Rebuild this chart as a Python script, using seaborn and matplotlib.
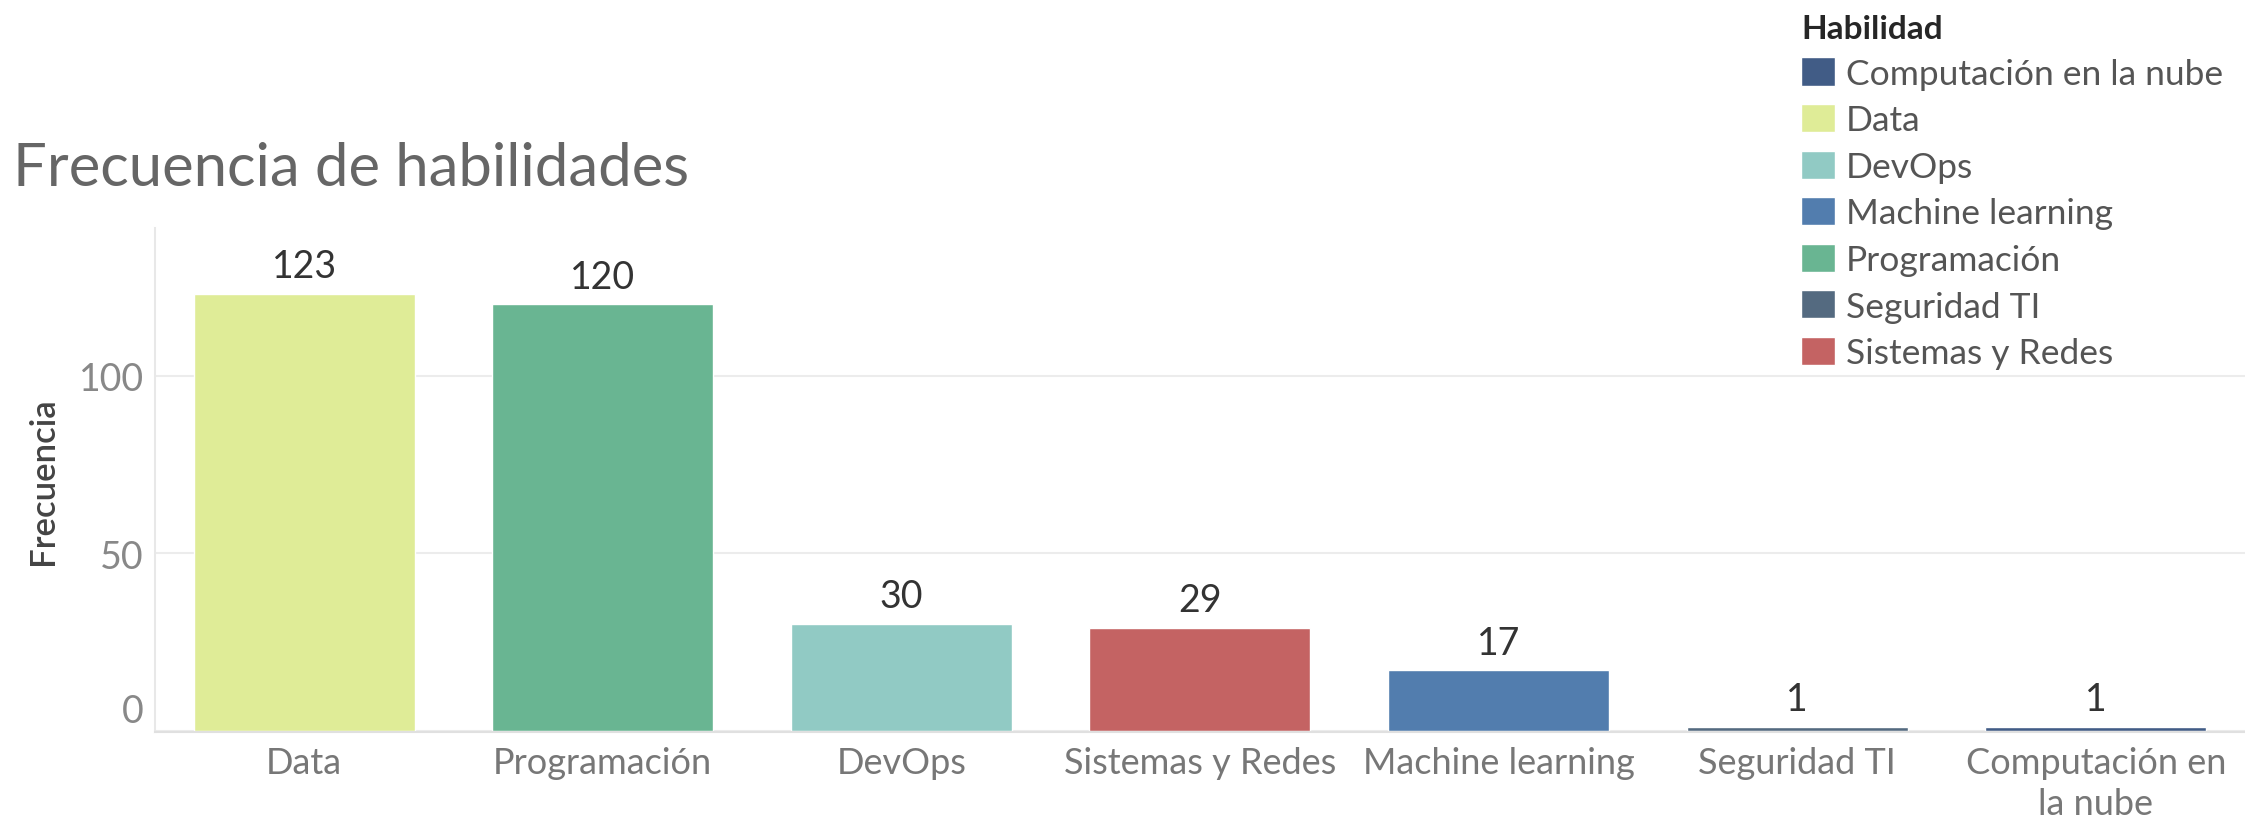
import pandas as pd
import matplotlib.pyplot as plt
import matplotlib.transforms as mtransforms
import seaborn as sns

# Data (order of the bars)
habilidades = ["Data", "Programación", "DevOps", "Sistemas y Redes",
               "Machine learning", "Seguridad TI", "Computación en la nube"]
frecuencias = [123, 120, 30, 29, 17, 1, 1]
etiquetas_x = ["Data", "Programación", "DevOps", "Sistemas y Redes",
               "Machine learning", "Seguridad TI", "Computación en\nla nube"]
# Legend order (alphabetical, as in the original)
orden_leyenda = ["Computación en la nube", "Data", "DevOps", "Machine learning",
                 "Programación", "Seguridad TI", "Sistemas y Redes"]
colores_lista = ["#DFEC97", "#69B592", "#91CAC4", "#C46363",
                 "#527DAE", "#546A80", "#415C86"]
colores = dict(zip(habilidades, colores_lista))

df = pd.DataFrame({"Habilidad": habilidades, "Frecuencia": frecuencias})

sns.set_theme(style="white")
plt.rcParams["font.family"] = ["Lato", "DejaVu Sans"]

# Create figure
fig = plt.figure(figsize=(22.45, 8.2), dpi=100)
ax = fig.add_axes([0.069, 0.106, 0.931, 0.615])

sns.barplot(data=df, x="Habilidad", y="Frecuencia", hue="Habilidad",
            order=habilidades, hue_order=orden_leyenda, palette=colores,
            width=0.74, saturation=1, dodge=False, legend=True, ax=ax)

# Value labels on top of the bars
for c in ax.containers:
    ax.bar_label(c, padding=7, fontsize=27, color="#333333")

# Axes styling
ax.set_xlim(-0.5, 6.5)
ax.set_ylim(-0.4, 141.6)
ax.set_yticks([0, 50, 100])
ax.yaxis.grid(True, color="#ececec", linewidth=1.5)
ax.set_axisbelow(True)
for s in ["top", "right"]:
    ax.spines[s].set_visible(False)
ax.spines["left"].set_color("#e8e8e8")
ax.spines["bottom"].set_color("#e0e0e0")
ax.spines["left"].set_linewidth(1.5)
ax.spines["bottom"].set_linewidth(1.5)

ax.set_xticks(range(len(habilidades)))
ax.set_xticklabels(etiquetas_x, fontsize=26, color="#777777", linespacing=1.3)
ax.set_xticks([i - 0.5 for i in range(len(habilidades))], minor=True)
ax.tick_params(axis="x", which="major", length=0, pad=10)
ax.tick_params(axis="x", which="minor", length=10, width=1.5, color="#e6e6e6")
ax.tick_params(axis="y", length=0, pad=8, labelsize=27, labelcolor="#888888")

# Tableau keeps the "0" label inside the pane: nudge it up
zero_label = ax.yaxis.get_major_ticks()[0].label1
zero_label.set_transform(zero_label.get_transform() +
                         mtransforms.ScaledTranslation(0, 17 / 72, fig.dpi_scale_trans))

ax.set_xlabel("")
ax.set_ylabel("Frecuencia", fontsize=25, color="#444444", fontweight="semibold")
ax.yaxis.set_label_coords(-0.046, 0.5)

# Legend at the top right
leg = ax.get_legend()
handles = leg.legend_handles
labels = [t.get_text() for t in leg.texts]
leg.remove()
fig.legend(handles, labels, title="Habilidad", loc="upper left",
           bbox_to_anchor=(0.7945, 1.003), frameon=False, fontsize=25.5,
           title_fontproperties={"weight": "bold", "size": 24},
           alignment="left", handlelength=0.95, handleheight=0.85,
           handletextpad=0.3, labelspacing=0.4, borderpad=0,
           labelcolor="#555555")

# Title
fig.text(0.006, 0.773, "Frecuencia de habilidades", fontsize=43,
         fontweight="normal", color="#666666", va="baseline")

plt.savefig("out.png", dpi=100)
